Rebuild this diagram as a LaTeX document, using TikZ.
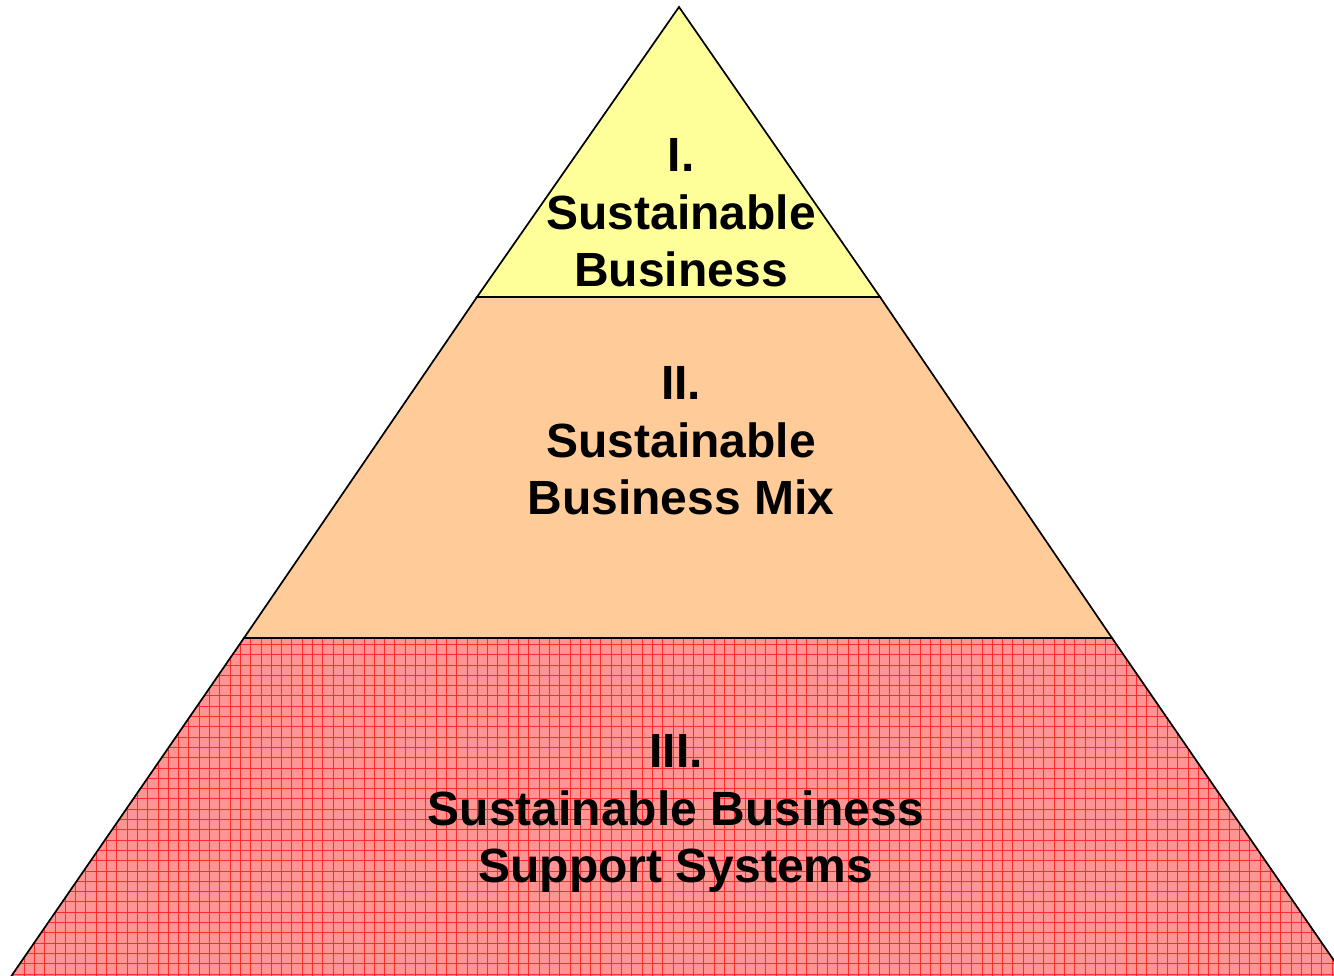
\documentclass[tikz,border=0pt]{standalone}
\usepackage{fontspec}
\setmainfont{Liberation Sans}
\definecolor{topyellow}{HTML}{FFFF99}
\definecolor{midorange}{HTML}{FFCC99}
\definecolor{basepink}{HTML}{FF9494}
\definecolor{gridred}{HTML}{FF2A2A}
\tikzset{
  tier/.style={draw=black, line width=1.7pt, line join=miter},
  tierlabel/.style={anchor=base, align=center, inner sep=0pt,
    font=\fontsize{48}{57.5}\selectfont\bfseries}
}
\begin{document}
\begin{tikzpicture}[x=1pt,y=1pt]
  \useasboundingbox (0,0) rectangle (1334,976);
  \clip (0,0) rectangle (1334,976);
  % coordinates
  \coordinate (apex) at (679,969);
  \coordinate (l1) at (477,679);
  \coordinate (r1) at (880,679);
  \coordinate (l2) at (244,338);
  \coordinate (r2) at (1112,338);
  \coordinate (l3) at (10,-2);
  \coordinate (r3) at (1346,-2);
  % bottom tier with grid
  \fill[basepink] (l2) -- (r2) -- (r3) -- (l3) -- cycle;
  \begin{scope}
    \clip (l2) -- (r2) -- (r3) -- (l3) -- cycle;
    \draw[gridred, line width=0.9pt, step=10.3pt, shift={(3.5,2)}] (-10,-10) grid (1350,345);
  \end{scope}
  \draw[tier] (l2) -- (r2) -- (r3) -- (l3) -- cycle;
  % middle tier
  \fill[midorange] (l1) -- (r1) -- (r2) -- (l2) -- cycle;
  \draw[tier] (l1) -- (r1) -- (r2) -- (l2) -- cycle;
  % top tier
  \fill[topyellow] (apex) -- (r1) -- (l1) -- cycle;
  \draw[tier] (apex) -- (r1) -- (l1) -- cycle;
  % labels
  \node[tierlabel] (t1) at (681,689) {I.\\Sustainable\\Business};
  \node[tierlabel] (t2) at (681,461) {II.\\Sustainable\\Business Mix};
  \node[tierlabel] (t3) at (676,93) {III.\\Sustainable Business\\Support Systems};
\end{tikzpicture}
\end{document}
